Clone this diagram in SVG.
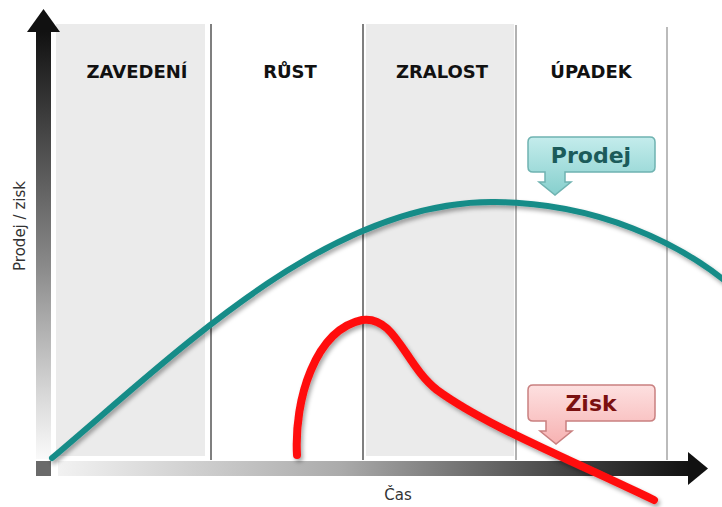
<svg xmlns="http://www.w3.org/2000/svg" width="722" height="507" viewBox="0 0 722 507">
  <defs>
    <linearGradient id="yAxisGrad" x1="0" y1="0" x2="0" y2="1">
      <stop offset="0" stop-color="#111"/>
      <stop offset="0.55" stop-color="#8a8a8a"/>
      <stop offset="0.85" stop-color="#d8d8d8"/>
      <stop offset="1" stop-color="#fafafa"/>
    </linearGradient>
    <linearGradient id="xAxisGrad" x1="0" y1="0" x2="1" y2="0">
      <stop offset="0" stop-color="#f2f2f2"/>
      <stop offset="0.45" stop-color="#aaa"/>
      <stop offset="0.8" stop-color="#444"/>
      <stop offset="1" stop-color="#111"/>
    </linearGradient>
    <linearGradient id="prodejGrad" x1="0" y1="0" x2="0" y2="1">
      <stop offset="0" stop-color="#c4ecec"/>
      <stop offset="1" stop-color="#86cfcd"/>
    </linearGradient>
    <linearGradient id="ziskGrad" x1="0" y1="0" x2="0" y2="1">
      <stop offset="0" stop-color="#fde0e0"/>
      <stop offset="1" stop-color="#f7b2b2"/>
    </linearGradient>
    <filter id="shadow" x="-10%" y="-10%" width="120%" height="130%">
      <feDropShadow dx="2" dy="3" stdDeviation="2" flood-color="#000" flood-opacity="0.35"/>
    </filter>
  </defs>
  <style>
    .band { fill: #ebebeb; }
    .phase { font-family: "DejaVu Sans", Verdana, sans-serif; font-weight: bold; font-size: 18px; fill: #111; text-anchor: middle; }
    .axis-label { font-family: "DejaVu Sans", Verdana, sans-serif; font-size: 15px; fill: #333; text-anchor: middle; }
    .callout-text { font-family: "DejaVu Sans", Verdana, sans-serif; font-weight: bold; font-size: 22px; text-anchor: middle; }
    .curve { fill: none; stroke-linecap: round; filter: url(#shadow); }
  </style>

  <!-- phase bands and dividers -->
  <g id="phases">
    <rect class="band" x="56" y="24" width="149" height="432"/>
    <rect class="band" x="366" y="24" width="148" height="432"/>
    <line x1="211" y1="24" x2="211" y2="460" stroke="#555" stroke-width="1.5"/>
    <line x1="363" y1="24" x2="363" y2="460" stroke="#555" stroke-width="1.5"/>
    <line x1="516" y1="25" x2="516" y2="460" stroke="#999" stroke-width="1.5"/>
    <line x1="667" y1="27" x2="667" y2="460" stroke="#bbb" stroke-width="2"/>
    <text class="phase" x="137" y="78">ZAVEDENÍ</text>
    <text class="phase" x="290" y="78">RŮST</text>
    <text class="phase" x="442" y="78">ZRALOST</text>
    <text class="phase" x="591" y="78">ÚPADEK</text>
  </g>

  <!-- axes -->
  <g id="axes">
    <rect x="36" y="31" width="15" height="428" fill="url(#yAxisGrad)"/>
    <polygon points="43.5,9 27,32 60,32" fill="#111"/>
    <rect x="36" y="461" width="15" height="15" fill="#6a6a6a"/>
    <rect x="58" y="461" width="632" height="15" fill="url(#xAxisGrad)"/>
    <polygon points="688,452 708,468.5 688,485" fill="#111"/>
    <text class="axis-label" x="0" y="0" transform="translate(25,226) rotate(-90)">Prodej / zisk</text>
    <text class="axis-label" x="398" y="500">Čas</text>
  </g>

  <!-- connectors: sales and profit curves -->
  <g id="connectors">
    <path id="prodej-curve" class="curve" stroke="#178c88" stroke-width="6"
          d="M52,458 C180,350 330,200 495,202 C600,203 680,245 724,280"/>
    <path id="zisk-curve" class="curve" stroke="#ff1010" stroke-width="8"
          d="M297,455 C294,400 315,330 362,320 C395,315 405,365 437,390 C485,425 560,455 654,500"/>
  </g>

  <!-- callout: Prodej -->
  <g id="prodej-callout">
    <path d="M533,137 H650 Q655,137 655,142 V167 Q655,172 650,172 H565 V182 H571 L555,195 L539,182 H545 V172 H533 Q528,172 528,167 V142 Q528,137 533,137 Z"
          fill="url(#prodejGrad)" stroke="#6fb3b1" stroke-width="1.5"/>
    <text class="callout-text" x="591" y="163" fill="#1b5b5a">Prodej</text>
  </g>

  <!-- callout: Zisk -->
  <g id="zisk-callout">
    <path d="M533,385 H650 Q655,385 655,390 V416 Q655,421 650,421 H566 V431 H572 L556,444 L540,431 H546 V421 H533 Q528,421 528,416 V390 Q528,385 533,385 Z"
          fill="url(#ziskGrad)" stroke="#c98080" stroke-width="1.5"/>
    <text class="callout-text" x="591" y="411" fill="#7a1010">Zisk</text>
  </g>
</svg>
